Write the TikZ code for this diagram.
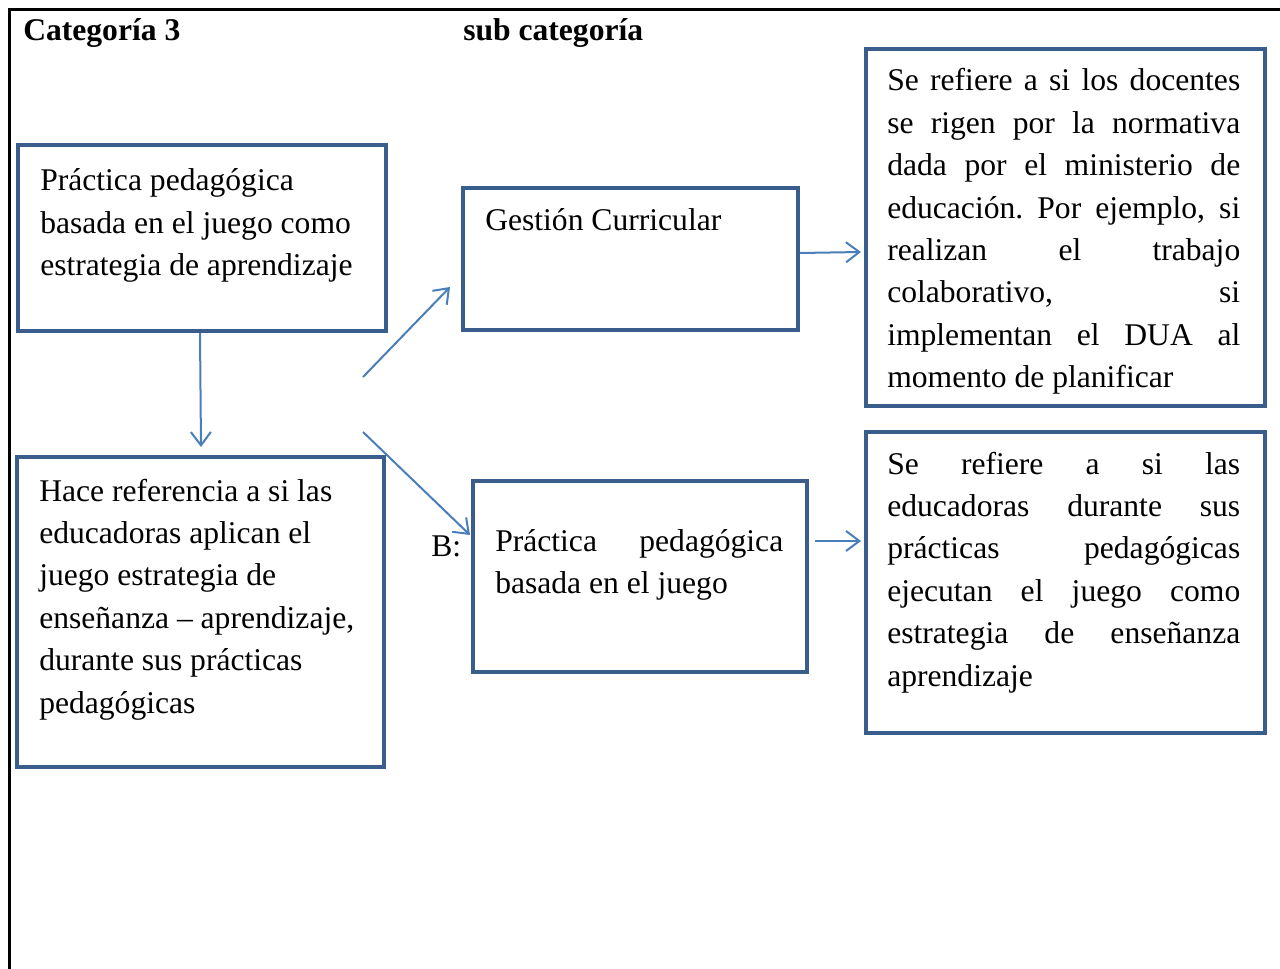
\documentclass[tikz,border=0pt]{standalone}
\usepackage{fontspec}
\setmainfont{Liberation Serif}
\usetikzlibrary{arrows.meta}
\definecolor{boxblue}{HTML}{3A5E8C}
\definecolor{arrblue}{HTML}{4A7EBB}
\newcommand{\bodyfont}{\fontsize{23.7pt}{31.8pt}\selectfont}
\begin{document}
\hyphenpenalty=10000
\exhyphenpenalty=10000
\frenchspacing
\begin{tikzpicture}[x=0.75pt,y=-0.75pt,
  boxnode/.style={draw=boxblue, line width=3pt, inner sep=0pt, anchor=north west},
  txt/.style={anchor=base west, inner sep=0pt, text width=#1, align=flush left, font=\bodyfont},
  jtxt/.style={txt=#1, align=justify},
  lbl/.style={anchor=base west, inner sep=0pt, font=\bodyfont},
  arr/.style={draw=arrblue, line width=1.5pt, -{Straight Barb[length=10pt,width=15pt]}}]
\useasboundingbox (0,0) rectangle (1280,969);
% outer frame
\draw[line width=2.25pt] (9,969) -- (9,10) -- (1280,10);
% headings
\node[lbl, font=\bodyfont\bfseries] (h1) at (23,41) {Categoría 3};
\node[lbl, font=\bodyfont\bfseries] (h2) at (463,41) {sub categoría};
% boxes
\node[boxnode, minimum width={368*0.75pt}, minimum height={186*0.75pt}] (bA) at (16,143) {};
\node[boxnode, minimum width={367*0.75pt}, minimum height={310*0.75pt}] (bB) at (15,455) {};
\node[boxnode, minimum width={335*0.75pt}, minimum height={142*0.75pt}] (bC) at (461,186) {};
\node[boxnode, minimum width={334*0.75pt}, minimum height={191*0.75pt}] (bD) at (471,479) {};
\node[boxnode, minimum width={399*0.75pt}, minimum height={357*0.75pt}] (bE) at (864,47) {};
\node[boxnode, minimum width={399*0.75pt}, minimum height={301*0.75pt}] (bF) at (864,430) {};
% texts
\node[txt=255pt] (tA) at (40,191) {Práctica pedagógica\\basada en el juego como\\estrategia de aprendizaje};
\node[txt=255pt] (tB) at (39,501) {Hace referencia a si las\\educadoras aplican el\\juego estrategia de\\enseñanza – aprendizaje,\\durante sus prácticas\\pedagógicas};
\node[txt=225pt] (tC) at (485,231) {Gestión Curricular};
\node[jtxt=216pt] (tD) at (495,551) {Práctica pedagógica\linebreak basada en el juego};
\node[jtxt=264.75pt] (tE) at (887,91) {Se refiere a si los docentes\linebreak se rigen por la normativa\linebreak dada por el ministerio de\linebreak educación. Por ejemplo, si\linebreak realizan el trabajo\linebreak colaborativo, si\linebreak implementan el DUA al\linebreak momento de planificar};
\node[jtxt=264.75pt] (tF) at (887,474) {Se refiere a si las\linebreak educadoras durante sus\linebreak prácticas pedagógicas\linebreak ejecutan el juego como\linebreak estrategia de enseñanza\linebreak aprendizaje};
\node[lbl] (lB) at (431,556) {B:};
% connector end points
\coordinate (dEnd) at (201,447);
\coordinate (u1) at (363,377);
\coordinate (u2) at (450,287);
\coordinate (l1) at (363,432);
\coordinate (l2) at (470,535);
\coordinate (r1) at (815,541);
% arrows
\draw[arr] ([xshift=-1.5pt]bA.south) -- (dEnd);
\draw[arr] (u1) -- (u2);
\draw[arr] (l1) -- (l2);
\draw[arr] (bC.east |- 0,253) -- ([xshift=-2.25pt]bE.west |- 0,252);
\draw[arr] (r1) -- ([xshift=-2.25pt]bF.west |- 0,541);
\end{tikzpicture}
\end{document}
